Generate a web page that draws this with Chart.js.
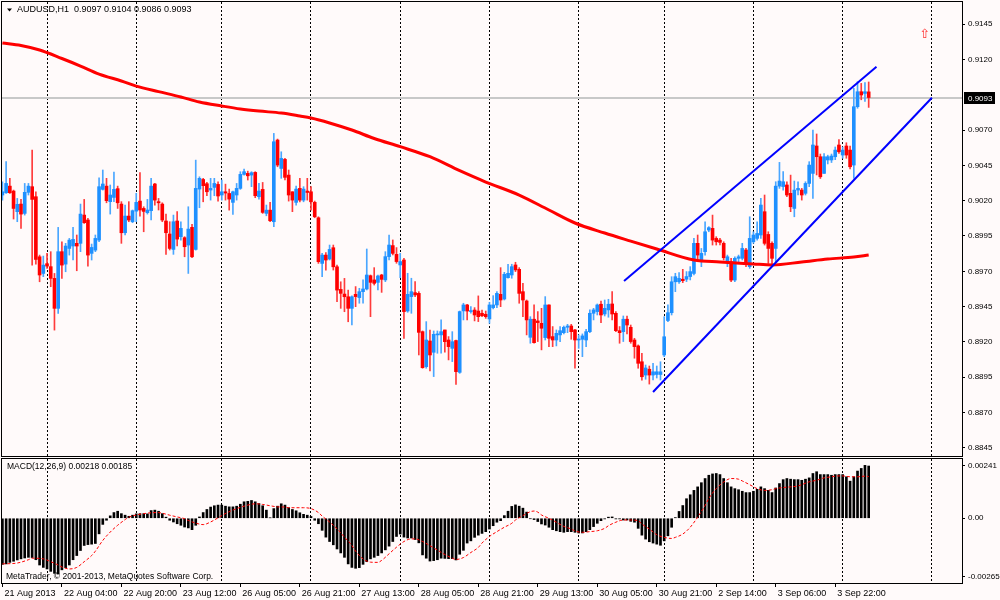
<!DOCTYPE html>
<html>
<head>
<meta charset="utf-8">
<title>AUDUSD,H1</title>
<script src="https://cdn.jsdelivr.net/npm/chart.js@4.4.1/dist/chart.umd.min.js"></script>
<style>
    html, body { margin: 0; padding: 0; background: #fffafa; }
    #wrap { position: relative; width: 1000px; height: 600px; overflow: hidden; }
    canvas { position: absolute; left: 0; }
    #priceChart { top: 0; }
    #macdChart { top: 457px; }
</style>
</head>
<body>
<div id="wrap">
    <canvas id="priceChart" width="1000" height="457"></canvas>
    <canvas id="macdChart" width="1000" height="143"></canvas>
</div>
<script>
/* globals Chart:false */
'use strict';

// hourly bars, 21 Aug 2013 12:00 .. 4 Sep 2013 09:00
const openPrices = [
    0.90240, 0.90256, 0.90303, 0.90268, 0.90122, 0.90176, 0.90110, 0.90259, 0.90299, 0.90228,
    0.89803, 0.89685, 0.89754, 0.89733, 0.89650, 0.89438, 0.89839, 0.89751, 0.89862, 0.89879,
    0.89898, 0.89898, 0.90098, 0.90063, 0.89827, 0.89850, 0.89921, 0.90280, 0.90303, 0.90193,
    0.90223, 0.90285, 0.90176, 0.89973, 0.90091, 0.90051, 0.90126, 0.90197, 0.90145, 0.90115,
    0.90129, 0.90318, 0.90193, 0.90176, 0.90056, 0.89964, 0.89855, 0.90056, 0.89945, 0.89938,
    0.89886, 0.90011, 0.89855, 0.90282, 0.90350, 0.90320, 0.90275, 0.90294, 0.90315, 0.90240,
    0.90263, 0.90251, 0.90188, 0.90240, 0.90287, 0.90386, 0.90393, 0.90381, 0.90400, 0.90228,
    0.90280, 0.90110, 0.90133, 0.90051, 0.90629, 0.90428, 0.90492, 0.90381, 0.90263, 0.90188,
    0.90287, 0.90204, 0.90268, 0.90263, 0.90188, 0.90079, 0.89756, 0.89815, 0.89787, 0.89867,
    0.89732, 0.89572, 0.89539, 0.89520, 0.89438, 0.89537, 0.89514, 0.89556, 0.89575, 0.89669,
    0.89639, 0.89622, 0.89674, 0.89639, 0.89804, 0.89882, 0.89820, 0.89745, 0.89780, 0.89419,
    0.89521, 0.89549, 0.89544, 0.89273, 0.89025, 0.89207, 0.89127, 0.89250, 0.89250, 0.89285,
    0.89214, 0.89155, 0.89210, 0.88985, 0.89420, 0.89462, 0.89415, 0.89426, 0.89419, 0.89403,
    0.89396, 0.89363, 0.89443, 0.89462, 0.89537, 0.89504, 0.89655, 0.89674, 0.89745, 0.89714,
    0.89556, 0.89490, 0.89233, 0.89361, 0.89349, 0.89332, 0.89231, 0.89462, 0.89238, 0.89214,
    0.89250, 0.89266, 0.89304, 0.89313, 0.89285, 0.89214, 0.89219, 0.89214, 0.89273, 0.89403,
    0.89415, 0.89467, 0.89398, 0.89427, 0.89469, 0.89403, 0.89280, 0.89273, 0.89361, 0.89304,
    0.89214, 0.89172, 0.89060, 0.88966, 0.89007, 0.88966, 0.88970, 0.88970, 0.89108, 0.89352,
    0.89407, 0.89626, 0.89626, 0.89644, 0.89644, 0.89663, 0.89685, 0.89898, 0.89768, 0.89839,
    0.89992, 0.90004, 0.89933, 0.89921, 0.89898, 0.89768, 0.89768, 0.89638, 0.89792, 0.89792,
    0.89851, 0.89733, 0.89909, 0.89933, 0.89957, 0.90122, 0.89961, 0.89898, 0.89862, 0.90303,
    0.90300, 0.90311, 0.90252, 0.90145, 0.90275, 0.90275, 0.90252, 0.90322, 0.90393, 0.90587,
    0.90511, 0.90393, 0.90488, 0.90488, 0.90511, 0.90594, 0.90523, 0.90587, 0.90558, 0.90452,
    0.90865, 0.90971, 0.90959, 0.90970
];
const highPrices = [
    0.90334, 0.90476, 0.90358, 0.90275, 0.90216, 0.90209, 0.90322, 0.90322, 0.90558, 0.90263,
    0.89815, 0.89808, 0.89827, 0.89839, 0.89685, 0.90011, 0.89909, 0.89898, 0.89933, 0.90011,
    0.89957, 0.90176, 0.90209, 0.90075, 0.89893, 0.89957, 0.90362, 0.90417, 0.90358, 0.90311,
    0.90403, 0.90303, 0.90193, 0.90169, 0.90193, 0.90134, 0.90252, 0.90398, 0.90157, 0.90209,
    0.90358, 0.90322, 0.90216, 0.90185, 0.90105, 0.90051, 0.90098, 0.90122, 0.90051, 0.89945,
    0.90157, 0.90032, 0.90487, 0.90369, 0.90358, 0.90329, 0.90358, 0.90358, 0.90334, 0.90346,
    0.90317, 0.90282, 0.90268, 0.90322, 0.90405, 0.90424, 0.90409, 0.90405, 0.90405, 0.90322,
    0.90329, 0.90169, 0.90188, 0.90676, 0.90636, 0.90546, 0.90499, 0.90417, 0.90263, 0.90303,
    0.90358, 0.90299, 0.90358, 0.90299, 0.90197, 0.90086, 0.89827, 0.89832, 0.89886, 0.89886,
    0.89744, 0.89626, 0.89650, 0.89567, 0.89527, 0.89592, 0.89580, 0.89639, 0.89858, 0.89674,
    0.89726, 0.89674, 0.89679, 0.89839, 0.89957, 0.89922, 0.89868, 0.89827, 0.89792, 0.89686,
    0.89651, 0.89627, 0.89556, 0.89278, 0.89344, 0.89285, 0.89278, 0.89278, 0.89356, 0.89285,
    0.89238, 0.89273, 0.89214, 0.89419, 0.89474, 0.89467, 0.89450, 0.89443, 0.89526, 0.89426,
    0.89419, 0.89481, 0.89528, 0.89556, 0.89726, 0.89693, 0.89750, 0.89750, 0.89764, 0.89726,
    0.89615, 0.89497, 0.89379, 0.89462, 0.89415, 0.89438, 0.89521, 0.89462, 0.89309, 0.89285,
    0.89309, 0.89313, 0.89325, 0.89325, 0.89290, 0.89250, 0.89257, 0.89290, 0.89427, 0.89438,
    0.89469, 0.89490, 0.89497, 0.89502, 0.89556, 0.89415, 0.89309, 0.89384, 0.89384, 0.89320,
    0.89226, 0.89179, 0.89120, 0.89037, 0.89030, 0.89049, 0.89030, 0.89060, 0.89379, 0.89462,
    0.89662, 0.89686, 0.89691, 0.89714, 0.89698, 0.89733, 0.89933, 0.89957, 0.89862, 0.90051,
    0.90016, 0.90098, 0.89945, 0.89933, 0.89909, 0.89815, 0.89792, 0.89803, 0.89815, 0.89898,
    0.89862, 0.90086, 0.89980, 0.90051, 0.90216, 0.90240, 0.89980, 0.89909, 0.90334, 0.90471,
    0.90405, 0.90334, 0.90381, 0.90339, 0.90334, 0.90287, 0.90334, 0.90476, 0.90700, 0.90672,
    0.90530, 0.90534, 0.90522, 0.90530, 0.90580, 0.90632, 0.90580, 0.90610, 0.90587, 0.90995,
    0.91042, 0.91030, 0.91036, 0.91040
];
const lowPrices = [
    0.90204, 0.90252, 0.90252, 0.90070, 0.90051, 0.90004, 0.90098, 0.90240, 0.89744, 0.89751,
    0.89626, 0.89662, 0.89721, 0.89591, 0.89284, 0.89402, 0.89650, 0.89697, 0.89815, 0.89780,
    0.89704, 0.89839, 0.90039, 0.89737, 0.89780, 0.89839, 0.89909, 0.90275, 0.90185, 0.90105,
    0.90193, 0.90145, 0.89898, 0.89957, 0.90051, 0.90044, 0.90051, 0.90091, 0.89980, 0.90105,
    0.90063, 0.90169, 0.90134, 0.90051, 0.89820, 0.89851, 0.89820, 0.89879, 0.89921, 0.89803,
    0.89685, 0.89796, 0.89850, 0.90150, 0.90192, 0.90235, 0.90204, 0.90235, 0.90197, 0.90204,
    0.90204, 0.90133, 0.90103, 0.90204, 0.90280, 0.90381, 0.90346, 0.90299, 0.90221, 0.90211,
    0.90110, 0.90093, 0.90051, 0.90016, 0.90440, 0.90358, 0.90346, 0.90197, 0.90122, 0.90169,
    0.90192, 0.90192, 0.90204, 0.90133, 0.90079, 0.89756, 0.89662, 0.89709, 0.89780, 0.89709,
    0.89485, 0.89438, 0.89414, 0.89343, 0.89320, 0.89450, 0.89474, 0.89474, 0.89568, 0.89379,
    0.89603, 0.89568, 0.89551, 0.89627, 0.89780, 0.89816, 0.89757, 0.89655, 0.89226, 0.89410,
    0.89403, 0.89521, 0.89108, 0.89014, 0.89014, 0.88995, 0.88955, 0.89120, 0.89120, 0.89127,
    0.89073, 0.89061, 0.88900, 0.88978, 0.89356, 0.89356, 0.89403, 0.89349, 0.89344, 0.89379,
    0.89367, 0.89332, 0.89434, 0.89443, 0.89450, 0.89497, 0.89651, 0.89651, 0.89698, 0.89474,
    0.89379, 0.89250, 0.89191, 0.89191, 0.89203, 0.89144, 0.89214, 0.89167, 0.89167, 0.89172,
    0.89203, 0.89257, 0.89266, 0.89219, 0.89014, 0.89155, 0.89096, 0.89167, 0.89266, 0.89356,
    0.89391, 0.89337, 0.89384, 0.89375, 0.89356, 0.89273, 0.89191, 0.89203, 0.89257, 0.89191,
    0.89085, 0.89014, 0.88930, 0.88936, 0.88902, 0.88931, 0.88945, 0.88931, 0.89096, 0.89343,
    0.89391, 0.89556, 0.89615, 0.89620, 0.89627, 0.89639, 0.89674, 0.89768, 0.89733, 0.89815,
    0.89980, 0.89886, 0.89886, 0.89886, 0.89780, 0.89733, 0.89626, 0.89626, 0.89768, 0.89780,
    0.89733, 0.89721, 0.89898, 0.89921, 0.89933, 0.89886, 0.89756, 0.89744, 0.89768, 0.90287,
    0.90275, 0.90228, 0.90122, 0.90086, 0.90240, 0.90204, 0.90240, 0.90299, 0.90216, 0.90382,
    0.90357, 0.90393, 0.90460, 0.90470, 0.90490, 0.90534, 0.90500, 0.90500, 0.90424, 0.90358,
    0.90854, 0.90914, 0.90902, 0.90860
];
const closePrices = [
    0.90263, 0.90322, 0.90256, 0.90145, 0.90174, 0.90105, 0.90259, 0.90303, 0.90209, 0.89784,
    0.89674, 0.89744, 0.89737, 0.89650, 0.89438, 0.89839, 0.89744, 0.89879, 0.89921, 0.89926,
    0.89879, 0.90105, 0.90044, 0.89815, 0.89869, 0.89933, 0.90299, 0.90318, 0.90200, 0.90240,
    0.90280, 0.90185, 0.89973, 0.90091, 0.90063, 0.90129, 0.90188, 0.90134, 0.90124, 0.90134,
    0.90303, 0.90204, 0.90185, 0.90063, 0.89973, 0.89862, 0.90051, 0.89928, 0.90004, 0.89874,
    0.89999, 0.89803, 0.90287, 0.90358, 0.90306, 0.90263, 0.90287, 0.90322, 0.90233, 0.90263,
    0.90254, 0.90211, 0.90263, 0.90287, 0.90386, 0.90405, 0.90376, 0.90398, 0.90235, 0.90268,
    0.90117, 0.90133, 0.90058, 0.90617, 0.90452, 0.90499, 0.90365, 0.90240, 0.90204, 0.90282,
    0.90204, 0.90282, 0.90258, 0.90192, 0.90086, 0.89768, 0.89815, 0.89780, 0.89855, 0.89732,
    0.89567, 0.89544, 0.89520, 0.89438, 0.89520, 0.89521, 0.89556, 0.89575, 0.89674, 0.89622,
    0.89615, 0.89667, 0.89643, 0.89804, 0.89886, 0.89827, 0.89769, 0.89769, 0.89415, 0.89537,
    0.89556, 0.89533, 0.89268, 0.89018, 0.89214, 0.89108, 0.89254, 0.89254, 0.89273, 0.89202,
    0.89167, 0.89202, 0.88990, 0.89415, 0.89462, 0.89419, 0.89419, 0.89391, 0.89379, 0.89386,
    0.89379, 0.89462, 0.89462, 0.89544, 0.89497, 0.89679, 0.89686, 0.89733, 0.89710, 0.89544,
    0.89497, 0.89356, 0.89361, 0.89195, 0.89337, 0.89297, 0.89462, 0.89226, 0.89214, 0.89261,
    0.89280, 0.89304, 0.89313, 0.89273, 0.89214, 0.89219, 0.89243, 0.89273, 0.89403, 0.89427,
    0.89462, 0.89391, 0.89438, 0.89467, 0.89398, 0.89280, 0.89266, 0.89361, 0.89320, 0.89203,
    0.89167, 0.89049, 0.88954, 0.89016, 0.88966, 0.88989, 0.88989, 0.88989, 0.89237, 0.89407,
    0.89626, 0.89662, 0.89650, 0.89634, 0.89663, 0.89698, 0.89898, 0.89815, 0.89827, 0.89980,
    0.90009, 0.89921, 0.89909, 0.89905, 0.89796, 0.89803, 0.89638, 0.89792, 0.89803, 0.89862,
    0.89756, 0.89933, 0.89957, 0.89968, 0.90169, 0.89898, 0.89862, 0.89792, 0.90303, 0.90339,
    0.90334, 0.90240, 0.90157, 0.90275, 0.90287, 0.90240, 0.90322, 0.90452, 0.90594, 0.90511,
    0.90369, 0.90511, 0.90511, 0.90516, 0.90558, 0.90546, 0.90558, 0.90523, 0.90440, 0.90865,
    0.90971, 0.90948, 0.90971, 0.90930
];

// red moving average, read at bar positions
const maIndex = [0, 5, 10, 16, 21, 26, 32, 36, 42, 48, 53, 59, 64, 69, 75, 80, 83, 88, 94, 100,
    107, 115, 123, 130, 139, 147, 154, 162, 169, 176, 186, 193, 202, 207, 215, 222, 229, 233];
const maValues = [0.91316, 0.91298, 0.91266, 0.91206, 0.91153, 0.91096, 0.91047, 0.91011, 0.90972, 0.90934,
    0.90898, 0.90870, 0.90849, 0.90834, 0.90820, 0.90799, 0.90785, 0.90750, 0.90700, 0.90640,
    0.90582, 0.90511, 0.90412, 0.90332, 0.90240, 0.90134, 0.90042, 0.89971, 0.89914, 0.89858,
    0.89780, 0.89766, 0.89752, 0.89745, 0.89766, 0.89787, 0.89801, 0.89815];

// blue channel trendlines
const channelUpperIndex = [167.2, 235.1];
const channelUpperValues = [0.89631, 0.91148];
const channelLowerIndex = [175.0, 250.0];
const channelLowerValues = [0.88846, 0.90928];

// MACD(12,26,9) main values per bar
const macdValues = [
    -0.00210, -0.00208, -0.00201, -0.00196, -0.00190, -0.00185, -0.00181, -0.00178, -0.00179, -0.00189,
    -0.00213, -0.00224, -0.00231, -0.00242, -0.00251, -0.00254, -0.00235, -0.00225, -0.00213, -0.00189,
    -0.00170, -0.00147, -0.00124, -0.00120, -0.00118, -0.00115, -0.00071, -0.00028, -0.00009, 0.00011,
    0.00026, 0.00032, 0.00021, 0.00014, 0.00009, 0.00014, 0.00020, 0.00021, 0.00021, 0.00020,
    0.00035, 0.00037, 0.00032, 0.00021, 0.00005, -0.00009, -0.00017, -0.00025, -0.00032, -0.00040,
    -0.00044, -0.00052, -0.00032, 0.00006, 0.00026, 0.00040, 0.00051, 0.00057, 0.00060, 0.00060,
    0.00055, 0.00052, 0.00052, 0.00055, 0.00064, 0.00075, 0.00077, 0.00081, 0.00075, 0.00067,
    0.00057, 0.00037, 0.00002, 0.00044, 0.00055, 0.00066, 0.00060, 0.00048, 0.00040, 0.00034,
    0.00025, 0.00018, 0.00014, 0.00008, -0.00009, -0.00025, -0.00055, -0.00086, -0.00106, -0.00121,
    -0.00140, -0.00158, -0.00178, -0.00208, -0.00224, -0.00228, -0.00225, -0.00210, -0.00198, -0.00185,
    -0.00178, -0.00170, -0.00158, -0.00144, -0.00127, -0.00106, -0.00083, -0.00072, -0.00086, -0.00090,
    -0.00090, -0.00097, -0.00112, -0.00167, -0.00182, -0.00195, -0.00193, -0.00189, -0.00182, -0.00183,
    -0.00184, -0.00184, -0.00190, -0.00164, -0.00146, -0.00113, -0.00103, -0.00087, -0.00077, -0.00069,
    -0.00061, -0.00049, -0.00034, -0.00018, -0.00011, 0.00012, 0.00032, 0.00054, 0.00061, 0.00055,
    0.00046, 0.00028, -0.00002, -0.00006, -0.00015, -0.00026, -0.00031, -0.00041, -0.00052, -0.00057,
    -0.00061, -0.00064, -0.00061, -0.00061, -0.00064, -0.00067, -0.00067, -0.00061, -0.00052, -0.00038,
    -0.00023, -0.00011, -0.00003, 0.00005, 0.00006, -0.00003, -0.00003, -0.00008, -0.00008, -0.00014,
    -0.00018, -0.00046, -0.00077, -0.00095, -0.00107, -0.00113, -0.00118, -0.00123, -0.00103, -0.00080,
    -0.00041, 0.00003, 0.00031, 0.00058, 0.00089, 0.00107, 0.00127, 0.00143, 0.00162, 0.00181,
    0.00196, 0.00202, 0.00204, 0.00199, 0.00181, 0.00162, 0.00143, 0.00135, 0.00130, 0.00123,
    0.00117, 0.00117, 0.00123, 0.00132, 0.00143, 0.00135, 0.00127, 0.00117, 0.00138, 0.00158,
    0.00176, 0.00181, 0.00178, 0.00176, 0.00176, 0.00173, 0.00178, 0.00184, 0.00204, 0.00212,
    0.00199, 0.00199, 0.00199, 0.00196, 0.00199, 0.00199, 0.00199, 0.00189, 0.00169, 0.00189,
    0.00215, 0.00227, 0.00241, 0.00238
];

// MACD signal line, read at bar positions
const signalIndex = [0, 4, 7, 8, 11, 13, 15, 16, 18, 20, 22, 24, 25, 27, 29, 31, 33, 34, 36, 38,
    40, 42, 43, 45, 47, 49, 50, 52, 54, 56, 58, 59, 61, 63, 65, 67, 68, 70, 72, 74,
    76, 77, 79, 81, 83, 85, 86, 88, 90, 92, 94, 95, 97, 99, 101, 102, 104, 106, 108, 110,
    111, 113, 115, 117, 119, 121, 122, 124, 126, 128, 129, 131, 133, 135, 137, 138, 140, 142, 143, 144,
    145, 147, 149, 151, 153, 154, 156, 158, 160, 162, 163, 165, 167, 169, 171, 172, 174, 176, 178, 180,
    181, 183, 185, 187, 189, 190, 192, 194, 196, 198, 199, 201, 203, 205, 207, 208, 210, 212, 214, 215,
    217, 219, 221, 223, 224, 226, 228, 230, 232, 233];
const signalValues = [
    -0.00208, -0.00204, -0.00189, -0.00182, -0.00185, -0.00198, -0.00213, -0.00222, -0.00231, -0.00224,
    -0.00198, -0.00170, -0.00150, -0.00101, -0.00063, -0.00032, -0.00006, 0.00005, 0.00015, 0.00021,
    0.00025, 0.00026, 0.00023, 0.00014, 0.00006, -0.00002, -0.00010, -0.00022, -0.00029, -0.00017,
    0.00002, 0.00012, 0.00030, 0.00044, 0.00055, 0.00064, 0.00066, 0.00063, 0.00057, 0.00052,
    0.00051, 0.00048, 0.00048, 0.00048, 0.00044, 0.00026, 0.00010, -0.00017, -0.00048, -0.00086,
    -0.00124, -0.00150, -0.00185, -0.00200, -0.00201, -0.00192, -0.00162, -0.00132, -0.00106, -0.00094,
    -0.00094, -0.00106, -0.00125, -0.00145, -0.00165, -0.00182, -0.00188, -0.00179, -0.00156, -0.00133,
    -0.00113, -0.00083, -0.00061, -0.00041, -0.00023, -0.00008, 0.00012, 0.00030, 0.00033, 0.00028,
    0.00015, 0.00000, -0.00018, -0.00037, -0.00049, -0.00058, -0.00064, -0.00061, -0.00057, -0.00046,
    -0.00034, -0.00018, -0.00008, -0.00008, -0.00011, -0.00026, -0.00049, -0.00075, -0.00087, -0.00092,
    -0.00087, -0.00072, -0.00041, 0.00005, 0.00058, 0.00090, 0.00135, 0.00165, 0.00181, 0.00178,
    0.00170, 0.00153, 0.00135, 0.00127, 0.00130, 0.00135, 0.00140, 0.00143, 0.00147, 0.00153,
    0.00166, 0.00173, 0.00184, 0.00189, 0.00192, 0.00193, 0.00189, 0.00189, 0.00192, 0.00190
];

// time axis
const dayStarts = [12, 36, 59, 83, 107, 131, 155, 178, 202, 226, 250];
const timeTickIndex = [0, 16, 32, 48, 64, 80, 96, 112, 128, 144, 160, 176, 192, 208, 224];
const timeTickLabels = ['21 Aug 2013', '22 Aug 04:00', '22 Aug 20:00', '23 Aug 12:00', '26 Aug 05:00',
    '26 Aug 21:00', '27 Aug 13:00', '28 Aug 05:00', '28 Aug 21:00', '29 Aug 13:00', '30 Aug 05:00',
    '30 Aug 21:00', '2 Sep 14:00', '3 Sep 06:00', '3 Sep 22:00'];

const priceTicks = [0.9145, 0.9120, 0.9070, 0.9045, 0.9020, 0.8995, 0.8970, 0.8945, 0.8920, 0.8895, 0.8870, 0.8845];
const macdTicks = [0.00241, 0, -0.00265];
const macdTickLabels = ['0.00241', '0.00', '-0.00265'];

// red arrow object
const arrowIndex = [248.1];
const arrowPrice = [0.91372];

(() => {
    const X_MIN = -0.11;
    const X_MAX = 258.1;
    const FAMILY = "'Liberation Sans', Arial, sans-serif";
    const last = closePrices.length - 1;

    const fixAxisWidth = (scale) => {
        scale.width = 38;
        scale.paddingTop = 0;
        scale.paddingBottom = 0;
    };
    const toPoints = (xs, ys) => xs.map((x, i) => ({x: x, y: ys[i]}));

    const bullBody = [], bearBody = [], bullWick = [], bearWick = [];
    openPrices.forEach((o, i) => {
        const c = closePrices[i];
        const body = {x: i, y: [o, c]};
        const wick = {x: i, y: [lowPrices[i], highPrices[i]]};
        if (c >= o) {
            bullBody.push(body);
            bullWick.push(wick);
        } else {
            bearBody.push(body);
            bearWick.push(wick);
        }
    });

    const frame = (ctx, a) => {
        ctx.strokeStyle = "#000";
        ctx.lineWidth = 1;
        ctx.strokeRect(a.left - 0.5, a.top - 0.5, a.width + 1, a.height + 1);
    };

    const priceDecor = {
        id: "priceDecor",
        beforeDatasetsDraw(chart) {
            const {ctx, chartArea: a, scales: {y}} = chart;
            const py = Math.round(y.getPixelForValue(closePrices[last]));
            ctx.save();
            ctx.strokeStyle = "#c8c8c8";
            ctx.lineWidth = 2;
            ctx.beginPath();
            ctx.moveTo(a.left, py);
            ctx.lineTo(a.right, py);
            ctx.stroke();
            ctx.restore();
        },
        afterDraw(chart) {
            const {ctx, chartArea: a, scales: {x, y}} = chart;
            ctx.save();
            frame(ctx, a);

            // symbol header
            ctx.fillStyle = "#000";
            ctx.beginPath();
            ctx.moveTo(7, 8.5);
            ctx.lineTo(12, 8.5);
            ctx.lineTo(9.5, 11.5);
            ctx.closePath();
            ctx.fill();
            ctx.font = "9px " + FAMILY;
            ctx.textBaseline = "middle";
            ctx.textAlign = "left";
            ctx.fillText("AUDUSD,H1  " + [openPrices[last], highPrices[last], lowPrices[last], closePrices[last]]
                .map(v => v.toFixed(4)).join(" "), 17, 10);

            // arrow object
            ctx.fillStyle = "#ff3030";
            ctx.font = "13px 'DejaVu Sans', sans-serif";
            ctx.textAlign = "center";
            ctx.fillText("\u21E7", x.getPixelForValue(arrowIndex[0]), y.getPixelForValue(arrowPrice[0]));

            // current price box
            const py = Math.round(y.getPixelForValue(closePrices[last]));
            ctx.fillStyle = "#000";
            ctx.fillRect(a.right + 2, py - 6, 31, 12);
            ctx.fillStyle = "#fff";
            ctx.font = "8px " + FAMILY;
            ctx.textAlign = "left";
            ctx.fillText(closePrices[last].toFixed(4), a.right + 6, py + 0.5);
            ctx.restore();
        }
    };

    const macdDecor = {
        id: "macdDecor",
        afterDraw(chart) {
            const {ctx, chartArea: a} = chart;
            ctx.save();
            frame(ctx, a);
            ctx.fillStyle = "#000";
            ctx.font = "8.5px " + FAMILY;
            ctx.textBaseline = "middle";
            ctx.textAlign = "left";
            ctx.fillText("MACD(12,26,9) 0.00218 0.00185", 7, 10);
            ctx.fillText("MetaTrader, \u00A9 2001-2013, MetaQuotes Software Corp.", 6, 120);
            ctx.restore();
        }
    };

    new Chart(document.getElementById("priceChart"), {
        type: "bar",
        data: {
            datasets: [
                {
                    type: "line",
                    data: toPoints(channelUpperIndex, channelUpperValues),
                    borderColor: "#0000ff",
                    borderWidth: 2,
                    pointRadius: 0,
                    order: 0
                },
                {
                    type: "line",
                    data: toPoints(channelLowerIndex, channelLowerValues),
                    borderColor: "#0000ff",
                    borderWidth: 2,
                    pointRadius: 0,
                    order: 0
                },
                {
                    type: "line",
                    data: toPoints(maIndex, maValues),
                    borderColor: "#ff0000",
                    borderWidth: 3,
                    pointRadius: 0,
                    cubicInterpolationMode: "monotone",
                    order: 1
                },
                {data: bullBody, backgroundColor: "#1e90ff", barThickness: 3, minBarLength: 1, grouped: false, order: 2},
                {data: bearBody, backgroundColor: "#ff0000", barThickness: 3, minBarLength: 1, grouped: false, order: 2},
                {data: bullWick, backgroundColor: "#4aa6ff", barThickness: 1, grouped: false, order: 3},
                {data: bearWick, backgroundColor: "#ff3b3b", barThickness: 1, grouped: false, order: 3}
            ]
        },
        options: {
            responsive: false,
            animation: false,
            events: [],
            layout: {padding: {left: 2, top: 2, right: 0, bottom: 1}},
            plugins: {
                legend: {display: false},
                tooltip: {enabled: false}
            },
            scales: {
                x: {
                    type: "linear",
                    min: X_MIN,
                    max: X_MAX,
                    offset: false,
                    afterBuildTicks: (s) => { s.ticks = dayStarts.map(v => ({value: v})); },
                    afterFit: (s) => { s.height = 0; s.paddingLeft = 0; s.paddingRight = 0; },
                    ticks: {display: false},
                    grid: {color: "#000", offset: false, drawTicks: false},
                    border: {display: false, dash: [2, 2]}
                },
                y: {
                    type: "linear",
                    position: "right",
                    min: 0.88393,
                    max: 0.91606,
                    afterBuildTicks: (s) => { s.ticks = priceTicks.map(v => ({value: v})); },
                    afterFit: fixAxisWidth,
                    ticks: {
                        autoSkip: false,
                        padding: 3,
                        color: "#000",
                        font: {family: FAMILY, size: 8},
                        callback: (v) => Number(v).toFixed(4)
                    },
                    grid: {drawOnChartArea: false, drawTicks: true, tickLength: 3, color: "#000"},
                    border: {display: false}
                }
            }
        },
        plugins: [priceDecor]
    });

    const xTickValues = timeTickIndex.concat(dayStarts).sort((a, b) => a - b);

    new Chart(document.getElementById("macdChart"), {
        type: "bar",
        data: {
            datasets: [
                {
                    type: "line",
                    data: toPoints(signalIndex, signalValues),
                    borderColor: "#ff0000",
                    borderWidth: 1,
                    borderDash: [3, 2],
                    pointRadius: 0,
                    cubicInterpolationMode: "monotone",
                    order: 0
                },
                {
                    data: macdValues.map((v, i) => ({x: i, y: v})),
                    backgroundColor: "#000",
                    barThickness: 2,
                    grouped: false,
                    order: 1
                }
            ]
        },
        options: {
            responsive: false,
            animation: false,
            events: [],
            layout: {padding: {left: 2, top: 2, right: 0, bottom: 2}},
            plugins: {
                legend: {display: false},
                tooltip: {enabled: false}
            },
            scales: {
                x: {
                    type: "linear",
                    min: X_MIN,
                    max: X_MAX,
                    offset: false,
                    afterBuildTicks: (s) => { s.ticks = xTickValues.map(v => ({value: v})); },
                    afterFit: (s) => { s.height = 15; s.paddingLeft = 0; s.paddingRight = 0; },
                    ticks: {
                        autoSkip: false,
                        maxRotation: 0,
                        minRotation: 0,
                        align: "start",
                        labelOffset: 2,
                        padding: 1,
                        color: "#000",
                        font: {family: FAMILY, size: 9},
                        callback: (v) => {
                            const k = timeTickIndex.indexOf(v);
                            return k >= 0 ? timeTickLabels[k] : "";
                        }
                    },
                    grid: {
                        offset: false,
                        tickLength: 4,
                        color: (ctx) => (ctx.tick && dayStarts.includes(ctx.tick.value)) ? "#000" : "rgba(0,0,0,0)",
                        tickColor: (ctx) => (ctx.tick && timeTickIndex.includes(ctx.tick.value)) ? "#000" : "rgba(0,0,0,0)"
                    },
                    border: {display: false, dash: [2, 2]}
                },
                y: {
                    type: "linear",
                    position: "right",
                    min: -0.00295,
                    max: 0.00270,
                    afterBuildTicks: (s) => { s.ticks = macdTicks.map(v => ({value: v})); },
                    afterFit: fixAxisWidth,
                    ticks: {
                        autoSkip: false,
                        padding: 3,
                        color: "#000",
                        font: {family: FAMILY, size: 8},
                        callback: (v) => macdTickLabels[macdTicks.indexOf(v)]
                    },
                    grid: {drawOnChartArea: false, drawTicks: true, tickLength: 3, color: "#000"},
                    border: {display: false}
                }
            }
        },
        plugins: [macdDecor]
    });
})();
</script>
</body>
</html>
